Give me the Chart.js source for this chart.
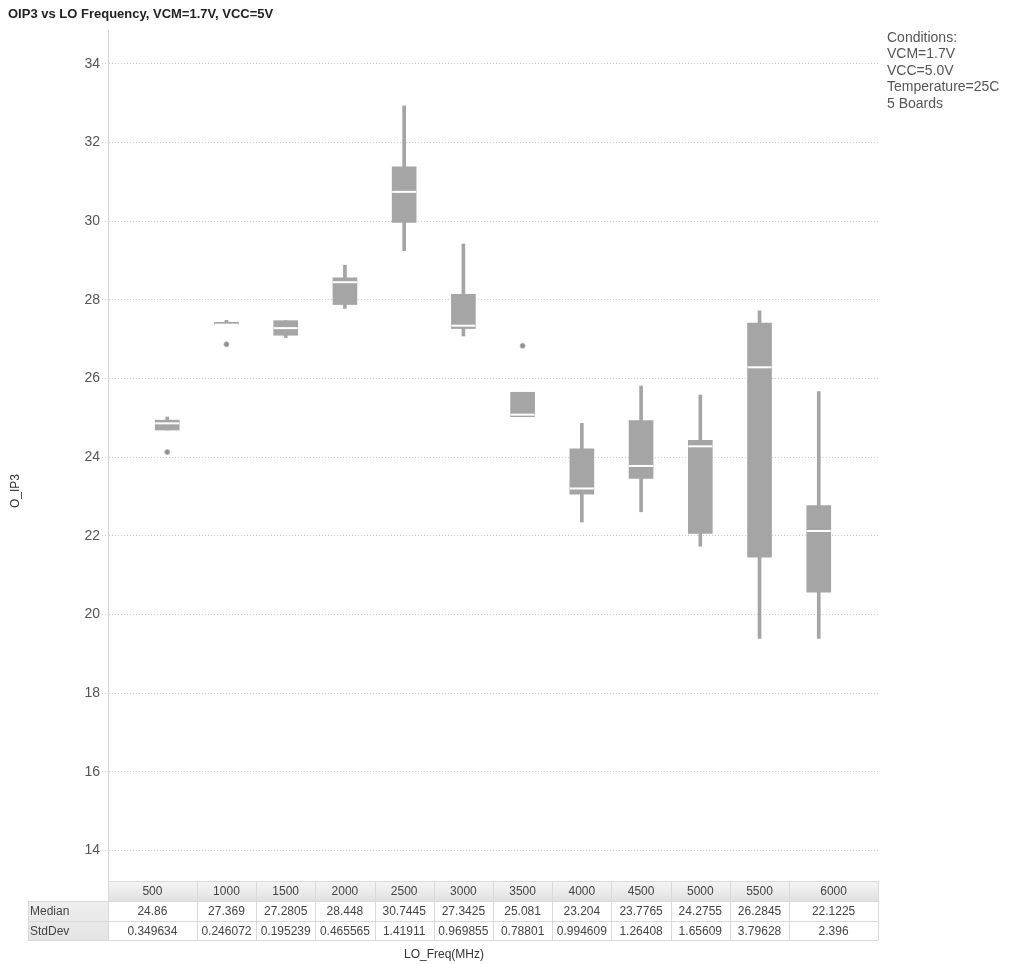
<!DOCTYPE html>
<html>
<head>
<meta charset="utf-8">
<script src="https://cdn.jsdelivr.net/npm/chart.js@4.4.1/dist/chart.umd.min.js"></script>
<style>
  body { margin: 0; background: #fff; }
  #wrap { width: 1010px; height: 964px; position: relative; }
</style>
</head>
<body>
<div id="wrap"><canvas id="oip3Chart"></canvas></div>
<script>
// LO frequency categories (MHz)
const freqs = ['500', '1000', '1500', '2000', '2500', '3000', '3500', '4000', '4500', '5000', '5500', '6000'];

// box plot values
const whiskerLow  = [24.69, 27.37, 27.04, 27.78, 29.25, 27.08, 25.03, 22.35, 22.61, 21.74, 19.39, 19.39];
const q1          = [24.69, 27.37, 27.10, 27.88, 29.97, 27.27, 25.03, 23.06, 23.46, 22.06, 21.46, 20.57];
const median      = [24.86, 27.369, 27.2805, 28.448, 30.7445, 27.3425, 25.081, 23.204, 23.7765, 24.2755, 26.2845, 22.1225];
const q3          = [24.94, 27.43, 27.47, 28.56, 31.38, 28.14, 25.65, 24.21, 24.93, 24.43, 27.41, 22.77];
const whiskerHigh = [25.02, 27.48, 27.47, 28.88, 32.93, 29.42, 25.65, 24.86, 25.81, 25.58, 27.72, 25.67];
const stdDev      = [0.349634, 0.246072, 0.195239, 0.465565, 1.41911, 0.969855, 0.78801, 0.994609, 1.26408, 1.65609, 3.79628, 2.396];

// outlier dots
const outlierFreqs = ['500', '1000', '3500'];
const outlierVals  = [24.13, 26.87, 26.83];

const yTicks = [14, 16, 18, 20, 22, 24, 26, 28, 30, 32, 34];
const conditions = ['Conditions:', 'VCM=1.7V', 'VCC=5.0V', 'Temperature=25C', '5 Boards'];

// empty labels at both ends give the half-band margin left and right
const xLabels = [' ', ...freqs, '  '];

const boxGray = '#a5a5a5';
const textGray = '#555555';
const FONT = 'Arial, "Liberation Sans", sans-serif';

const range = (lo, hi) => freqs.map((f, i) => ({ x: f, y: [lo[i], hi[i]] }));

const decorPlugin = {
  id: 'decor',
  afterDraw(chart) {
    const ctx = chart.ctx;
    const xs = chart.scales.x;
    const { left, right, bottom } = chart.chartArea;

    ctx.save();
    // title
    ctx.fillStyle = '#222';
    ctx.font = 'bold 13px ' + FONT;
    ctx.textAlign = 'left';
    ctx.textBaseline = 'middle';
    ctx.fillText('OIP3 vs LO Frequency, VCM=1.7V, VCC=5V', 8, 14);

    // conditions note
    ctx.fillStyle = textGray;
    ctx.font = '14px ' + FONT;
    conditions.forEach((t, i) => ctx.fillText(t, 887, 38 + i * 16.5));

    // y axis title
    ctx.save();
    ctx.translate(16, 491);
    ctx.rotate(-Math.PI / 2);
    ctx.textAlign = 'center';
    ctx.font = '12px ' + FONT;
    ctx.fillStyle = '#333';
    ctx.fillText('O_IP3', 0, 0);
    ctx.restore();

    // x axis title
    ctx.textAlign = 'center';
    ctx.font = '12px ' + FONT;
    ctx.fillStyle = '#333';
    ctx.fillText('LO_Freq(MHz)', 444, 955);

    // stats table under the plot
    const centers = freqs.map((f, i) => xs.getPixelForValue(i + 1));
    const edges = [left];
    for (let i = 1; i < centers.length; i++) edges.push((centers[i - 1] + centers[i]) / 2);
    edges.push(right);

    const headTop = bottom + 1, headBot = headTop + 20, row1 = headBot + 19.5, row2 = row1 + 19.5;
    const labelLeft = 28;

    const grad = ctx.createLinearGradient(0, headTop, 0, headBot);
    grad.addColorStop(0, '#f5f5f5');
    grad.addColorStop(1, '#e1e1e1');
    ctx.fillStyle = grad;
    ctx.fillRect(left, headTop, right - left, headBot - headTop);

    const lgrad = ctx.createLinearGradient(0, headBot, 0, row2);
    lgrad.addColorStop(0, '#eeeeee');
    lgrad.addColorStop(1, '#e4e4e4');
    ctx.fillStyle = lgrad;
    ctx.fillRect(labelLeft, headBot, left - labelLeft, row2 - headBot);

    ctx.strokeStyle = '#d9d9d9';
    ctx.lineWidth = 1;
    ctx.beginPath();
    [headTop, headBot, row1, row2].forEach(y => {
      const x0 = y === headTop ? left : labelLeft;
      ctx.moveTo(x0, Math.round(y) + 0.5);
      ctx.lineTo(right, Math.round(y) + 0.5);
    });
    edges.forEach(x => {
      ctx.moveTo(Math.round(x) + 0.5, headTop);
      ctx.lineTo(Math.round(x) + 0.5, row2);
    });
    ctx.moveTo(labelLeft + 0.5, headBot);
    ctx.lineTo(labelLeft + 0.5, row2);
    ctx.stroke();

    ctx.font = '12px ' + FONT;
    ctx.fillStyle = '#444';
    ctx.textAlign = 'center';
    freqs.forEach((f, i) => {
      const cx = (edges[i] + edges[i + 1]) / 2;
      ctx.fillText(f, cx, (headTop + headBot) / 2 + 1);
      ctx.fillText(String(median[i]), cx, (headBot + row1) / 2 + 1);
      ctx.fillText(String(stdDev[i]), cx, (row1 + row2) / 2 + 1);
    });
    ctx.textAlign = 'left';
    ctx.fillText('Median', labelLeft + 2, (headBot + row1) / 2 + 1);
    ctx.fillText('StdDev', labelLeft + 2, (row1 + row2) / 2 + 1);
    ctx.restore();
  }
};

new Chart(document.getElementById('oip3Chart').getContext('2d'), {
  type: 'bar',
  data: {
    labels: xLabels,
    datasets: [
      {
        label: 'whisker',
        data: range(whiskerLow, whiskerHigh),
        backgroundColor: boxGray,
        barThickness: 3,
        grouped: false,
        order: 4
      },
      {
        label: 'box',
        data: range(q1, q3),
        backgroundColor: boxGray,
        barThickness: 24,
        grouped: false,
        order: 3
      },
      {
        type: 'line',
        label: 'median',
        data: freqs.map((f, i) => ({ x: f, y: median[i] })),
        showLine: false,
        pointStyle: 'line',
        pointRadius: 12,
        pointBorderWidth: 2,
        pointBorderColor: '#ffffff',
        order: 2
      },
      {
        type: 'line',
        label: 'outlier',
        data: outlierFreqs.map((f, i) => ({ x: f, y: outlierVals[i] })),
        showLine: false,
        pointRadius: 2.5,
        pointBackgroundColor: '#8e8e8e',
        pointBorderColor: '#b5b5b5',
        pointBorderWidth: 1,
        order: 1
      }
    ]
  },
  options: {
    responsive: true,
    maintainAspectRatio: false,
    animation: false,
    layout: { padding: { left: 0, top: 30, right: 132, bottom: 84 } },
    plugins: {
      legend: { display: false },
      tooltip: { enabled: false },
      title: { display: false }
    },
    scales: {
      x: {
        type: 'category',
        display: false,
        offset: false
      },
      y: {
        min: 13.25,
        max: 34.86,
        afterBuildTicks: scale => { scale.ticks = yTicks.map(v => ({ value: v })); },
        afterFit: scale => { scale.width = 108; },
        ticks: {
          color: textGray,
          font: { family: FONT, size: 14 },
          padding: 2
        },
        grid: {
          color: '#cccccc',
          tickColor: '#cccccc',
          tickLength: 6,
          tickBorderDash: [1, 2]
        },
        border: { display: true, color: '#d2d2d2', width: 1, dash: [1, 2] }
      }
    }
  },
  plugins: [decorPlugin]
});
</script>
</body>
</html>
